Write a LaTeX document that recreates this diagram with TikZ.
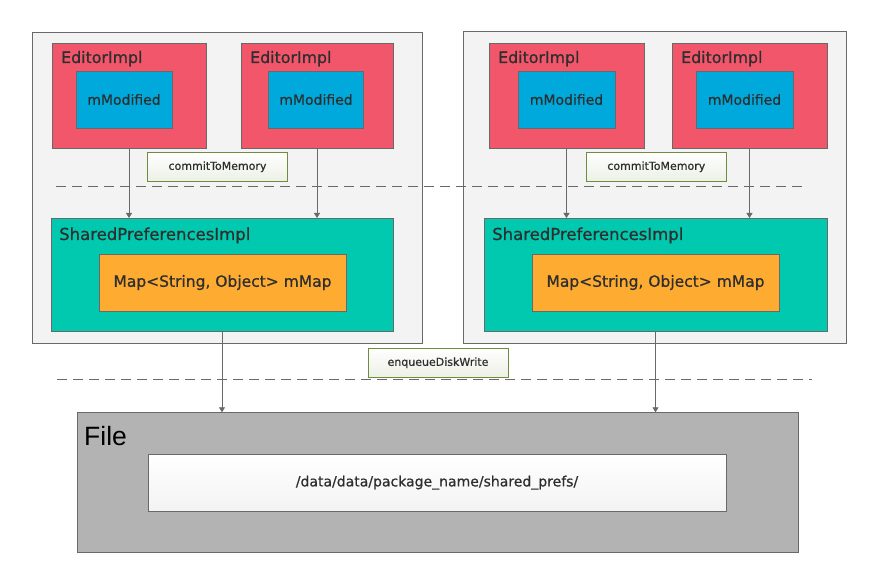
\documentclass[tikz,border=0pt]{standalone}
\usepackage{fontspec}
\setmainfont{DejaVu Sans}[UprightFeatures={FakeBold=0.7}]
\newfontfamily\filefont{Liberation Sans}
\usetikzlibrary{arrows.meta}

\definecolor{editorred}{HTML}{F1566B}
\definecolor{fieldblue}{HTML}{00A9DC}
\definecolor{sharedteal}{HTML}{00C9AF}
\definecolor{maporange}{HTML}{FEAB31}
\definecolor{filegray}{HTML}{B3B3B3}
\definecolor{panelgray}{HTML}{F3F3F3}
\definecolor{linegray}{HTML}{696969}
\definecolor{txt}{HTML}{2E2E2E}
\definecolor{callgreen}{HTML}{6F8C3E}
\definecolor{callbottom}{HTML}{ECF0E5}

\begin{document}
\begin{tikzpicture}[x=1pt,y=-1pt,
    box/.style={draw=linegray, line width=0.8pt, inner sep=0pt, outer sep=0pt},
    panel/.style={box, fill=panelgray},
    editor/.style={box, fill=editorred, minimum height=105},
    field/.style={box, fill=fieldblue, minimum height=57, text=txt, font=\fontsize{14}{17}\selectfont},
    shared/.style={box, fill=sharedteal, minimum height=113},
    mapbox/.style={box, fill=maporange, minimum width=247, minimum height=57, text=txt, font=\fontsize{15.5}{18}\selectfont},
    title/.style={anchor=base west, inner sep=0pt, text=txt, font=\fontsize{15.8}{19}\selectfont},
    call/.style={draw=callgreen, line width=0.8pt, top color=white, bottom color=callbottom,
      minimum width=140, minimum height=29, inner sep=0pt, text=txt, font=\fontsize{11}{13}\selectfont},
    flow/.style={draw=linegray, line width=0.8pt, -{Triangle[width=6pt,length=5pt]}},
    sep/.style={draw=linegray, line width=0.8pt, dash pattern=on 10pt off 6pt}]
  \useasboundingbox (0,0) rectangle (877,585);

  % two processes
  \node[panel, minimum width=390, minimum height=311] (leftproc) at (227,187.5) {};
  \node[panel, minimum width=383, minimum height=312] (rightproc) at (654.5,187) {};

  % editors
  \node[editor, minimum width=154] (ed1) at (129,95.5) {};
  \node[editor, minimum width=152] (ed2) at (317,95.5) {};
  \node[editor, minimum width=155] (ed3) at (566.5,95.5) {};
  \node[editor, minimum width=155] (ed4) at (749.5,95.5) {};
  \foreach \e in {1,...,4}
    \node[title] (edtitle\e) at ([shift={(9,20)}]ed\e.north west) {EditorImpl};

  \node[field, minimum width=96] (mod1) at (124,99.5) {mModified};
  \node[field, minimum width=95] (mod2) at (316,99.5) {mModified};
  \node[field, minimum width=97] (mod3) at (566.5,99.5) {mModified};
  \node[field, minimum width=97] (mod4) at (744.5,99.5) {mModified};

  % shared preferences
  \node[shared, minimum width=342] (sp1) at (222,274.5) {};
  \node[shared, minimum width=343] (sp2) at (655.5,274.5) {};
  \node[title, font=\fontsize{16.5}{19}\selectfont] (sptitle1) at ([shift={(8,22)}]sp1.north west) {SharedPreferencesImpl};
  \node[title, font=\fontsize{16.5}{19}\selectfont] (sptitle2) at ([shift={(8,22)}]sp2.north west) {SharedPreferencesImpl};
  \node[mapbox] (map1) at (222.5,282.5) {Map<String, Object> mMap};
  \node[mapbox] (map2) at (655.5,282.5) {Map<String, Object> mMap};

  % file on disk
  \node[box, fill=filegray, minimum width=721, minimum height=140] (file) at (437.5,482.3) {};
  \node[anchor=base west, inner sep=0pt, font=\filefont\fontsize{26.5}{30}\selectfont] (filetitle) at (84,445) {File};
  \node[box, top color=white, bottom color=panelgray, minimum width=578, minimum height=57,
    text=txt, font=\fontsize{14}{16}\selectfont] (path) at (437,482.7) {/data/data/package\_name/shared\_prefs/};

  % steps
  \node[call] (commit1) at (217.5,166.8) {commitToMemory};
  \node[call] (commit2) at (656.3,166.8) {commitToMemory};
  \node[call] (enqueue) at (438,362.8) {enqueueDiskWrite};

  \draw[sep] (56,186.5) -- (808,186.5);
  \draw[sep] (57,379) -- (812,379);

  \foreach \e/\s in {1/1,2/1,3/2,4/2}
    \draw[flow] (ed\e.south) -- (ed\e.south |- sp\s.north);
  \draw[flow] (sp1.south) -- (sp1.south |- file.north);
  \draw[flow] (sp2.south) -- (sp2.south |- file.north);
\end{tikzpicture}
\end{document}
